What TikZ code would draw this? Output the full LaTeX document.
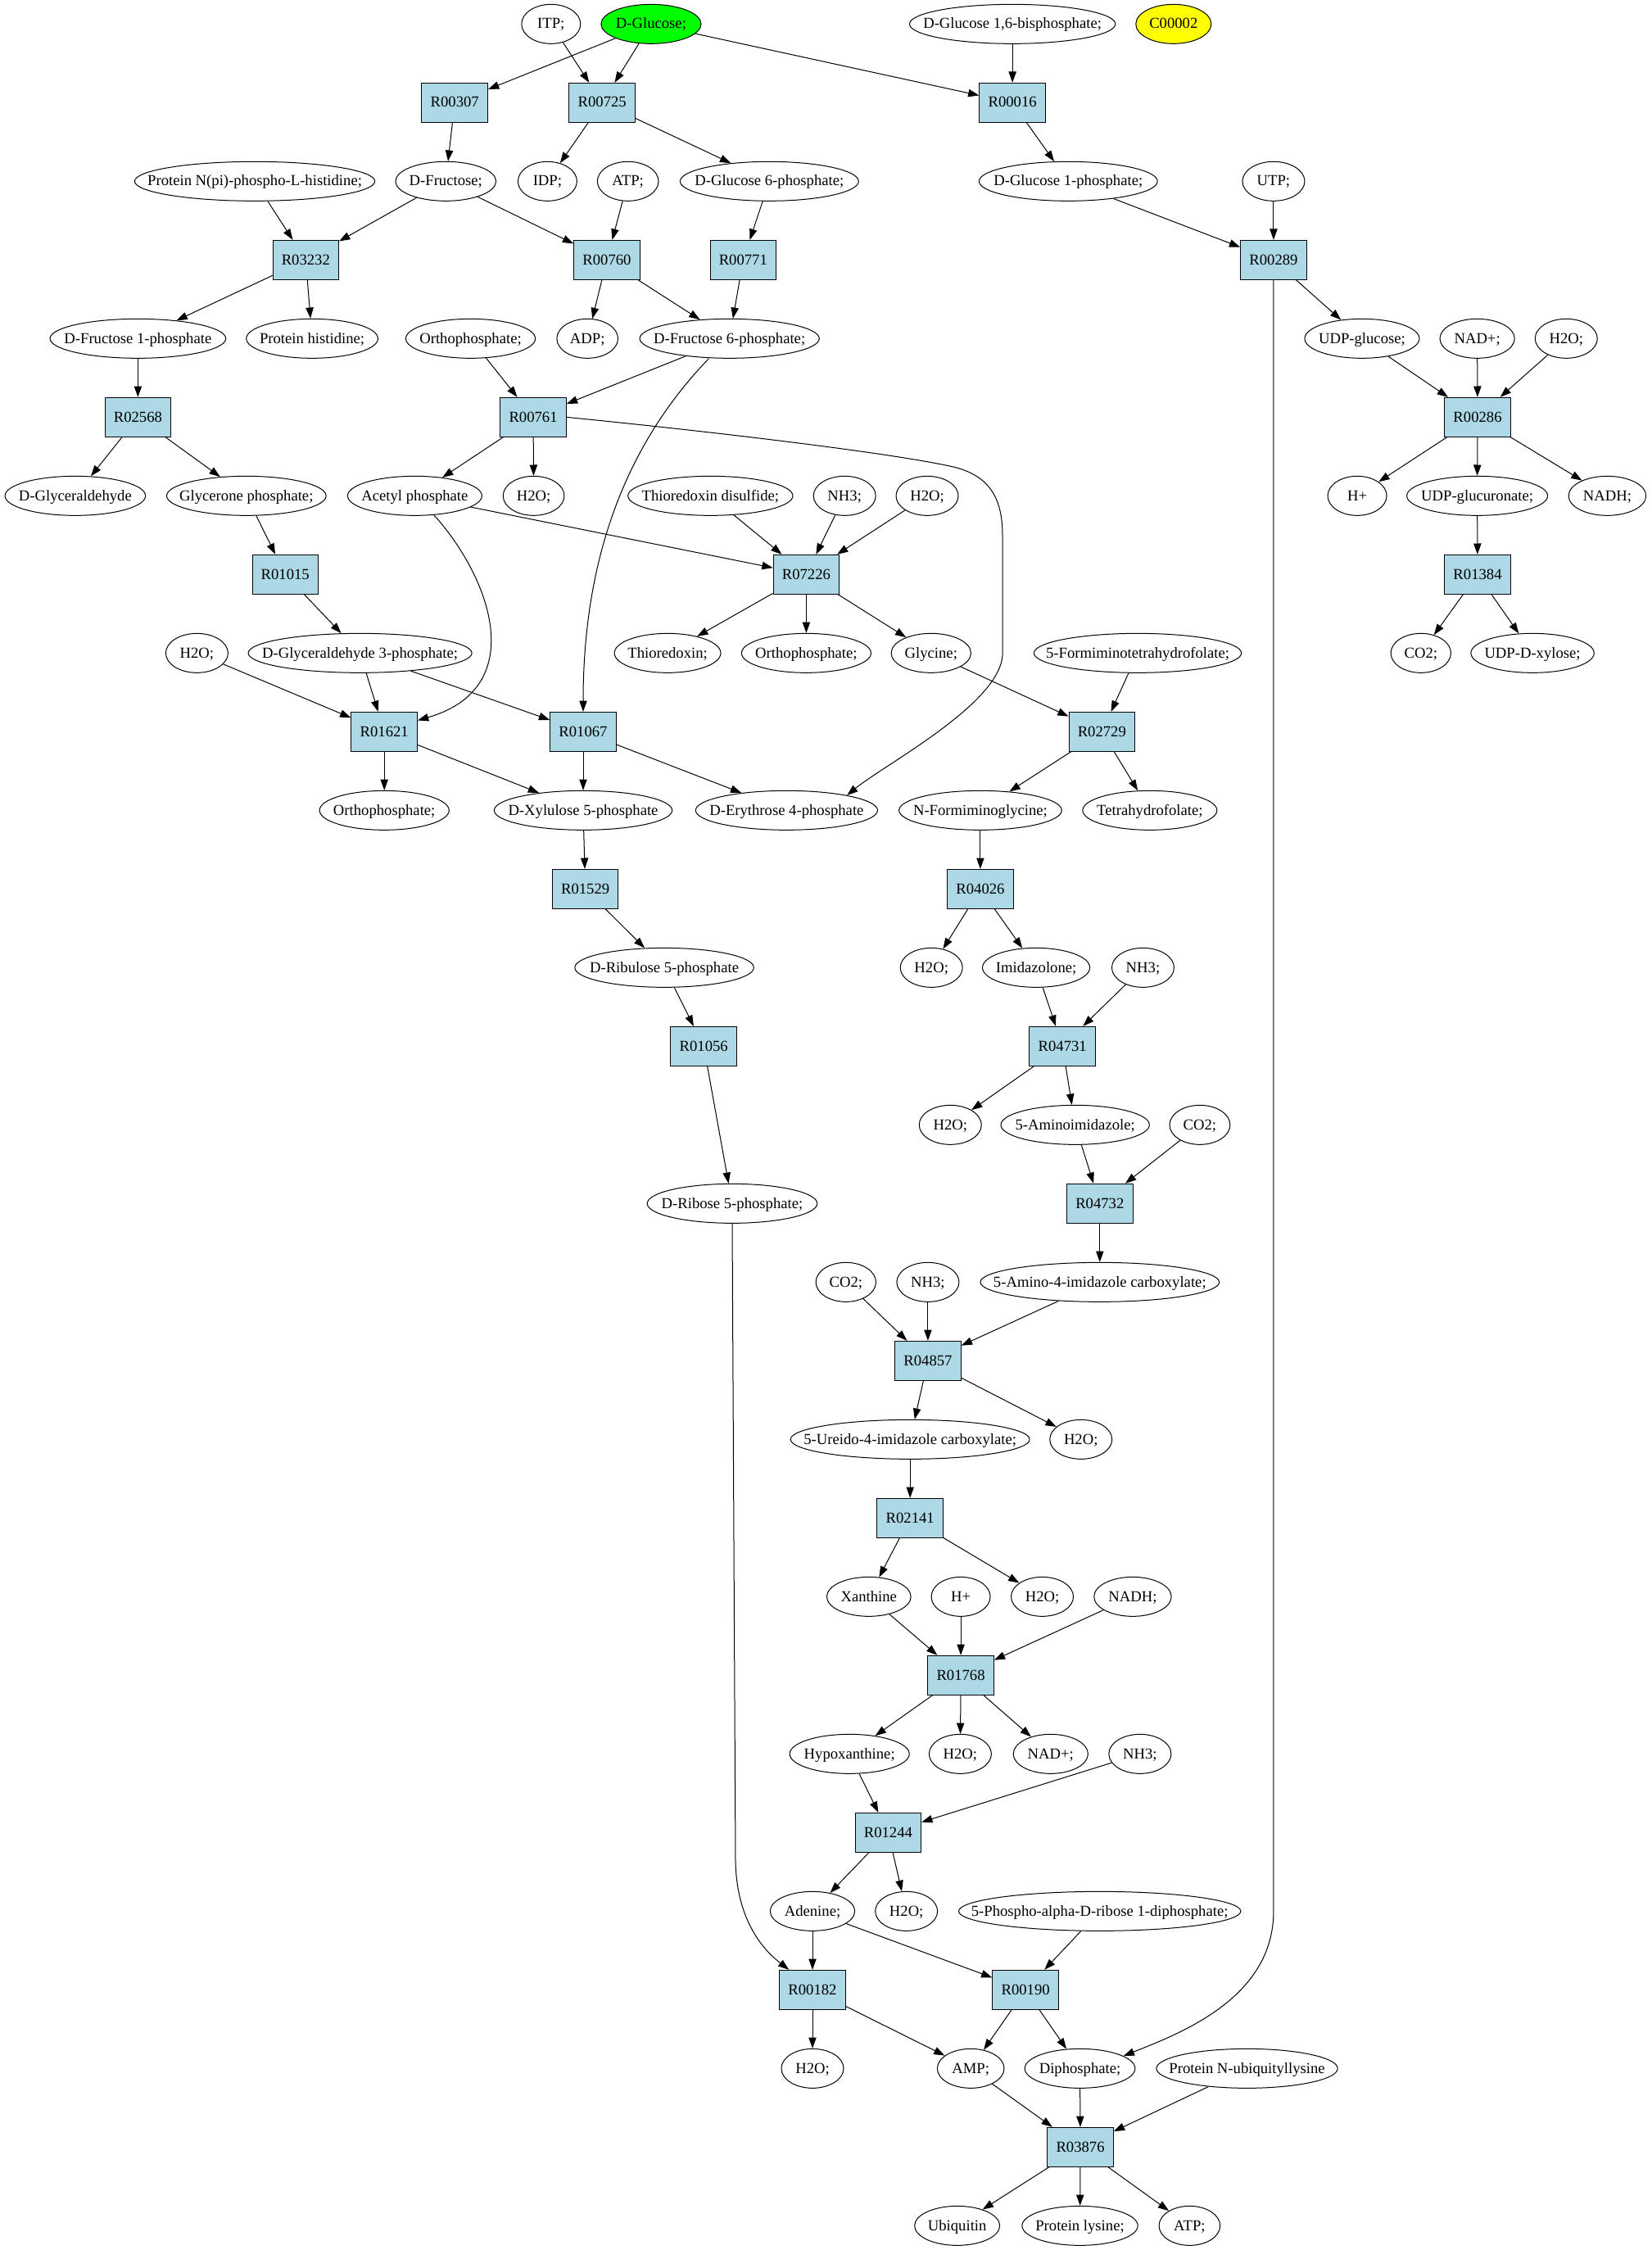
\documentclass[tikz,border=0pt]{standalone}
\usepackage{fontspec}
\setmainfont{Liberation Serif}
\usetikzlibrary{shapes.geometric,arrows.meta}
\definecolor{lb}{HTML}{ADD8E6}
\definecolor{gr}{HTML}{00FF00}
\definecolor{yl}{HTML}{FFFF00}
\tikzset{
  met/.style={draw, ellipse, minimum height=36pt, minimum width=#1, inner sep=0pt, line width=0.75pt, text height=11.5pt, text depth=3pt},
  rxbox/.style={draw, fill=lb, rectangle, minimum height=36pt, minimum width=54pt, inner xsep=8pt, inner ysep=0pt, line width=0.75pt, text height=11.5pt, text depth=3pt},
  edg/.style={-{Triangle[length=10pt,width=7pt]}, line width=0.75pt}
}
\newcommand\cpd[5]{\node[met=#4] (#1) at (#2,#3) {\makebox[0pt]{#5}};}
\newcommand\rxn[4]{\node[rxbox] (#1) at (#2,#3) {#4};}
\begin{document}
\begin{tikzpicture}[x=1pt,y=-1pt,font=\fontsize{14pt}{16pt}\selectfont]
\fill[white] (0,0) rectangle (1512,2060.25);
\useasboundingbox (0,0) rectangle (1512,2060.25);
% rank 0
\cpd{itp}{504.6}{22}{54pt}{ITP;}
\node[met=91.6pt, fill=gr] (glc) at (596.2,22) {\makebox[0pt]{D-Glucose;}};
\cpd{gbp}{927.1}{22}{188.5pt}{D-Glucose 1,6-bisphosphate;}
\node[met=69pt, fill=yl] (c2) at (1074.6,22) {\makebox[0pt]{C00002}};
% rank 1
\rxn{r307}{416.4}{94}{R00307}
\rxn{r725}{551.4}{94}{R00725}
\rxn{r016}{927.1}{94}{R00016}
% rank 2
\cpd{pnph}{233.3}{166}{220pt}{Protein N(pi)-phospho-L-histidine;}
\cpd{fru}{408.2}{166}{92pt}{D-Fructose;}
\cpd{idp}{501.3}{166}{54pt}{IDP;}
\cpd{atpa}{575}{166}{56pt}{ATP;}
\cpd{gsp}{704.5}{166}{163.4pt}{D-Glucose 6-phosphate;}
\cpd{gop}{978.2}{166}{163.4pt}{D-Glucose 1-phosphate;}
\cpd{utp}{1166.2}{166}{57pt}{UTP;}
% rank 3
\rxn{r3232}{280}{238}{R03232}
\rxn{r760}{555.7}{238}{R00760}
\rxn{r771}{680.5}{238}{R00771}
\rxn{r289}{1166.2}{238}{R00289}
% rank 4
\cpd{fop}{126.3}{310}{161pt}{D-Fructose 1-phosphate}
\cpd{phis}{285.8}{310}{120.5pt}{Protein histidine;}
\cpd{pia}{430.9}{310}{118.6pt}{Orthophosphate;}
\cpd{adp}{537.9}{310}{56pt}{ADP;}
\cpd{fsp}{668}{310}{164.4pt}{D-Fructose 6-phosphate;}
\cpd{udpg}{1247.2}{310}{105pt}{UDP-glucose;}
\cpd{nada}{1352.7}{310}{68.4pt}{NAD+;}
\cpd{wa}{1434.2}{310}{57pt}{H2O;}
% rank 5
\rxn{r2568}{126.3}{382}{R02568}
\rxn{r761}{488.3}{382}{R00761}
\rxn{r286}{1353}{382}{R00286}
% rank 6
\cpd{glyald}{68.9}{454}{128.7pt}{D-Glyceraldehyde}
\cpd{dhap}{225.6}{454}{146pt}{Glycerone phosphate;}
\cpd{acp}{379.8}{454}{123pt}{Acetyl phosphate}
\cpd{wb}{488.7}{454}{56pt}{H2O;}
\cpd{trxss}{650.5}{454}{151pt}{Thioredoxin disulfide;}
\cpd{nha}{773.4}{454}{57pt}{NH3;}
\cpd{wc}{849}{454}{57pt}{H2O;}
\cpd{hpa}{1242.8}{454}{54pt}{H+}
\cpd{udpga}{1352.7}{454}{129pt}{UDP-glucuronate;}
\cpd{nadha}{1471.8}{454}{70.9pt}{NADH;}
% rank 7
\rxn{r1015}{261.2}{526}{R01015}
\rxn{r7226}{738.3}{526}{R07226}
\rxn{r1384}{1353}{526}{R01384}
% rank 8
\cpd{wd}{180.3}{598}{57pt}{H2O;}
\cpd{gap}{329.7}{598}{204.8pt}{D-Glyceraldehyde 3-phosphate;}
\cpd{trx}{611.3}{598}{97.4pt}{Thioredoxin;}
\cpd{pib}{738.3}{598}{118.6pt}{Orthophosphate;}
\cpd{gly}{852.6}{598}{73pt}{Glycine;}
\cpd{fthf}{1041.8}{598}{190pt}{5-Formiminotetrahydrofolate;}
\cpd{coa}{1301.1}{598}{55pt}{CO2;}
\cpd{udpx}{1403.3}{598}{112.8pt}{UDP-D-xylose;}
% rank 9
\rxn{r1621}{351.9}{670}{R01621}
\rxn{r1067}{534}{670}{R01067}
\rxn{r2729}{1009}{670}{R02729}
% rank 10
\cpd{pic}{351.9}{742}{118.6pt}{Orthophosphate;}
\cpd{xu5p}{534}{742}{163pt}{D-Xylulose 5-phosphate}
\cpd{e4p}{720.3}{742}{166.6pt}{D-Erythrose 4-phosphate}
\cpd{fig}{897.7}{742}{149pt}{N-Formiminoglycine;}
\cpd{thf}{1052.9}{742}{123pt}{Tetrahydrofolate;}
% rank 11
\rxn{r1529}{536}{814}{R01529}
\rxn{r4026}{897.7}{814}{R04026}
% rank 12
\cpd{ru5p}{608.3}{886}{163.9pt}{D-Ribulose 5-phosphate}
\cpd{we}{852.9}{886}{57pt}{H2O;}
\cpd{imz}{948.8}{886}{98.3pt}{Imidazolone;}
\cpd{nhb}{1046.6}{886}{57pt}{NH3;}
% rank 13
\rxn{r1056}{644.4}{958}{R01056}
\rxn{r4731}{972.9}{958}{R04731}
% rank 14
\cpd{wf}{870.2}{1030}{57pt}{H2O;}
\cpd{aiz}{984.5}{1030}{136pt}{5-Aminoimidazole;}
\cpd{cob}{1098.7}{1030}{55.4pt}{CO2;}
% rank 15
\cpd{r5p}{670.5}{1102}{155.7pt}{D-Ribose 5-phosphate;}
\rxn{r4732}{1007.1}{1102}{R04732}
% rank 16
\cpd{coc}{774.6}{1174}{55pt}{CO2;}
\cpd{nhc}{849.7}{1174}{57pt}{NH3;}
\cpd{aic}{1007.1}{1174}{218.8pt}{5-Amino-4-imidazole carboxylate;}
% rank 17
\rxn{r4857}{849.7}{1246}{R04857}
% rank 18
\cpd{uic}{833.4}{1318}{219pt}{5-Ureido-4-imidazole carboxylate;}
\cpd{wg}{989.8}{1318}{57pt}{H2O;}
% rank 19
\rxn{r2141}{833.4}{1390}{R02141}
% rank 20
\cpd{xan}{795.6}{1462}{77pt}{Xanthine}
\cpd{hpb}{879.8}{1462}{54pt}{H+}
\cpd{wh}{954.4}{1462}{57pt}{H2O;}
\cpd{nadhb}{1037.2}{1462}{70.8pt}{NADH;}
% rank 21
\rxn{r1768}{879.8}{1534}{R01768}
% rank 22
\cpd{hyp}{777.9}{1606}{109.5pt}{Hypoxanthine;}
\cpd{wi}{879.3}{1606}{57pt}{H2O;}
\cpd{nadb}{962.1}{1606}{68.4pt}{NAD+;}
\cpd{nhd}{1043.9}{1606}{57pt}{NH3;}
% rank 23
\rxn{r1244}{813.3}{1678}{R01244}
% rank 24
\cpd{ade}{744}{1750}{77.5pt}{Adenine;}
\cpd{wj}{830}{1750}{57pt}{H2O;}
\cpd{prpp}{1007}{1750}{258.3pt}{5-Phospho-alpha-D-ribose 1-diphosphate;}
% rank 25
\rxn{r182}{744}{1822}{R00182}
\rxn{r190}{939.1}{1822}{R00190}
% rank 26
\cpd{wk}{744}{1894}{57pt}{H2O;}
\cpd{amp}{888.9}{1894}{61.2pt}{AMP;}
\cpd{ppi}{988.9}{1894}{101pt}{Diphosphate;}
\cpd{pnub}{1141.9}{1894}{166pt}{Protein N-ubiquityllysine}
% rank 27
\rxn{r3876}{989.3}{1966}{R03876}
% rank 28
\cpd{ubq}{876.5}{2038}{78pt}{Ubiquitin}
\cpd{plys}{988.9}{2038}{106pt}{Protein lysine;}
\cpd{atpb}{1089.3}{2038}{56pt}{ATP;}
% straight edges
\foreach \a/\b in {glc/r307, glc/r725, itp/r725, glc/r016, gbp/r016,
  r307/fru, r725/idp, r725/gsp, r016/gop,
  pnph/r3232, fru/r3232, fru/r760, atpa/r760, gsp/r771, gop/r289, utp/r289,
  r3232/fop, r3232/phis, r760/adp, r760/fsp, r771/fsp, r289/udpg,
  fop/r2568, pia/r761, fsp/r761, udpg/r286, nada/r286, wa/r286,
  r2568/glyald, r2568/dhap, r761/acp, r761/wb, r286/hpa, r286/udpga, r286/nadha,
  dhap/r1015, acp/r7226, trxss/r7226, nha/r7226, wc/r7226, udpga/r1384,
  r1015/gap, r7226/trx, r7226/pib, r7226/gly, r1384/coa, r1384/udpx,
  wd/r1621, gap/r1621, gap/r1067, gly/r2729, fthf/r2729,
  r1621/pic, r1621/xu5p, r1067/xu5p, r1067/e4p, r2729/fig, r2729/thf,
  xu5p/r1529, fig/r4026, r1529/ru5p, r4026/we, r4026/imz,
  ru5p/r1056, imz/r4731, nhb/r4731, r1056/r5p, r4731/wf, r4731/aiz,
  aiz/r4732, cob/r4732, r4732/aic,
  coc/r4857, nhc/r4857, aic/r4857, r4857/uic, r4857/wg,
  uic/r2141, r2141/xan, r2141/wh,
  xan/r1768, hpb/r1768, nadhb/r1768, r1768/hyp, r1768/wi, r1768/nadb,
  hyp/r1244, nhd/r1244, r1244/ade, r1244/wj,
  ade/r182, ade/r190, prpp/r190, r182/wk, r182/amp, r190/amp, r190/ppi,
  amp/r3876, ppi/r3876, pnub/r3876, r3876/ubq, r3876/plys, r3876/atpb}
  \draw[edg] (\a) -- (\b);
% curved edges
\draw[edg] ([xshift=-19pt]fsp.south) .. controls (580,400) and (534,500) .. (r1067.north);
\draw[edg] (r761.east) .. controls (650,395) and (820,415) .. (875,428)
  .. controls (905,436) and (918,455) .. (918,490) -- (918,600)
  .. controls (915,645) and (810,700) .. (e4p.14);
\draw[edg] (acp.-45) .. controls (450,530) and (485,630) .. ([yshift=-8pt]r1621.north east);
\draw[edg] (r289.south) -- (1166.2,1750) .. controls (1166.2,1830) and (1080,1862) .. (ppi.16);
\draw[edg] (r5p.south) -- (673.5,1705) .. controls (675,1765) and (705,1790) .. ([xshift=9pt]r182.north west);
\end{tikzpicture}
\end{document}
